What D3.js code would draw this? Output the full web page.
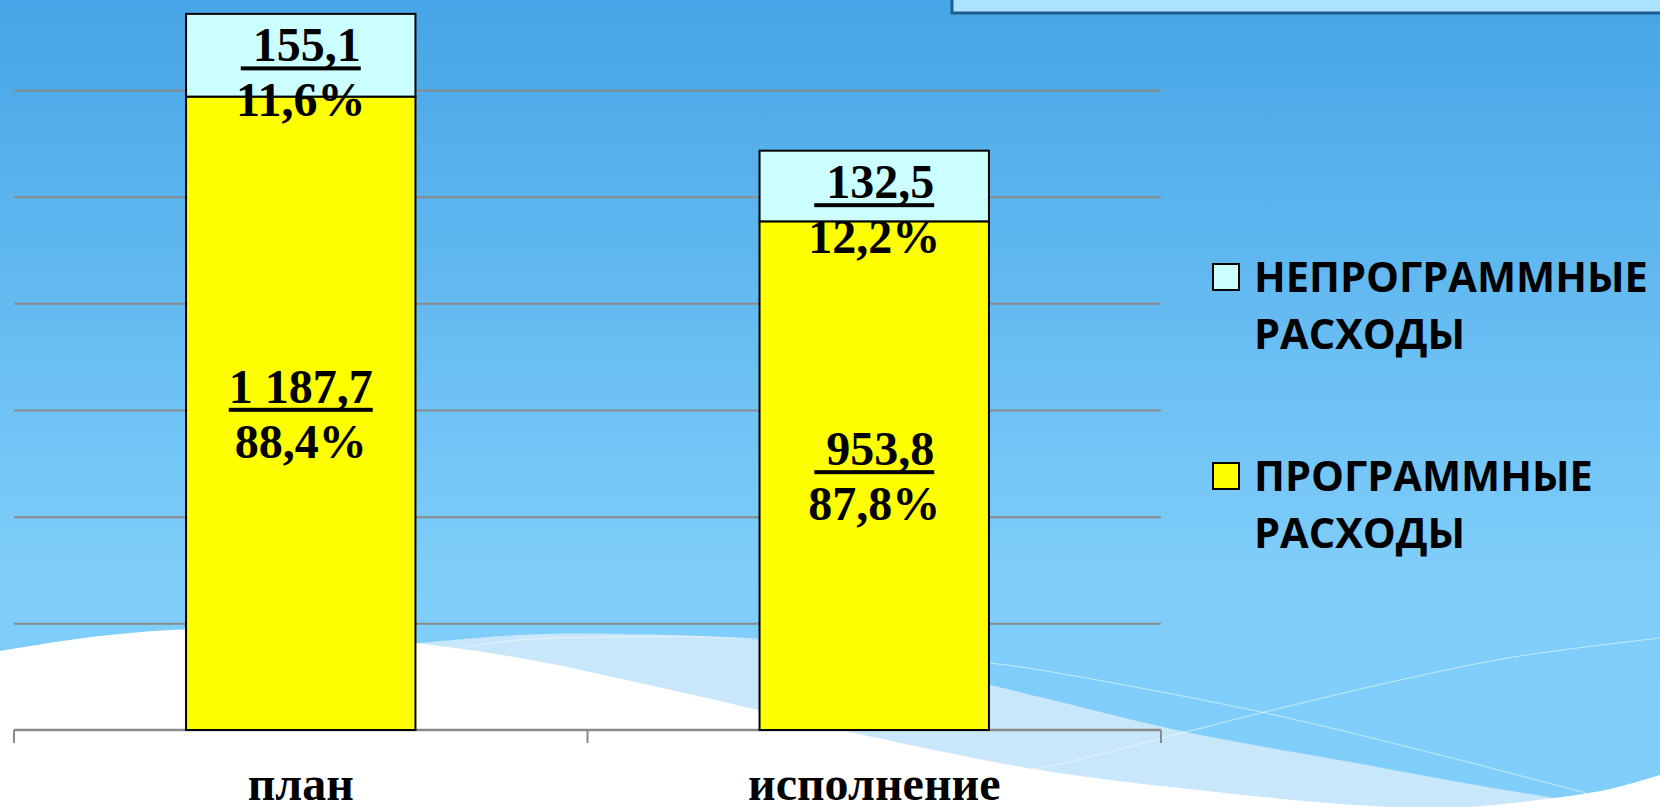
<!DOCTYPE html>
<html lang="ru">
<head>
<meta charset="utf-8">
<script src="https://cdn.jsdelivr.net/npm/d3@7"></script>
<style>
  html, body { margin: 0; padding: 0; overflow: hidden; background: #fff; }
  svg { display: block; }
</style>
</head>
<body>
<svg id="chart" width="1660" height="807"></svg>
<script>
// ── data ──
const categories       = ["план", "исполнение"];
const programValues    = [1187.7, 953.8];   // ПРОГРАММНЫЕ РАСХОДЫ
const nonProgramValues = [155.1, 132.5];    // НЕПРОГРАММНЫЕ РАСХОДЫ
const programPct       = [88.4, 87.8];
const nonProgramPct    = [11.6, 12.2];
const gridTicks        = [200, 400, 600, 800, 1000, 1200, 1400];
const legendItems      = [
  { key: "nonprog", lines: ["НЕПРОГРАММНЫЕ", "РАСХОДЫ"] },
  { key: "prog",    lines: ["ПРОГРАММНЫЕ", "РАСХОДЫ"] }
];

// decorative slide background (not data)
const whiteWave = [[0,651],[100,636],[200,629],[300,633],[416,643],[520,658],[640,683],[758,710],
                   [850,732],[1040,770],[1198,790],[1356,805],[1450,808],[1554,798],[1610,789],[1660,775]];
const lightWave = [[400,645],[520,635],[620,634],[758,640],[870,660],[990,685],[1040,697],
                   [1186,732],[1356,763],[1470,784],[1554,798]];
const thinLineA = [[466,647],[520,640],[620,637],[758,639],[990,663],[1040,670],[1261,712],[1440,755],[1586,793]];
const thinLineB = [[1000,772],[1040,768],[1186,732],[1261,713],[1400,680],[1514,657],[1660,638]];

const color = { prog: "#ffff00", nonprog: "#ccffff" };

const ru = d3.formatLocale({ decimal: ",", thousands: "\u00a0", grouping: [3], currency: ["", ""] });
const fmtVal = v => (v < 1000 ? "\u00a0" : "") + ru.format(",.1f")(v);
const fmtPct = p => ru.format(".1f")(p) + "%";

const svg = d3.select("#chart");
const W = 1660, H = 807;

// ── background ──
const defs = svg.append("defs");
const grad = defs.append("linearGradient")
    .attr("id", "bg").attr("x1", 0).attr("y1", 0).attr("x2", 0).attr("y2", 1);
grad.append("stop").attr("offset", "0%").attr("stop-color", "#46a5e6");
grad.append("stop").attr("offset", "70%").attr("stop-color", "#7ecdfa");
grad.append("stop").attr("offset", "100%").attr("stop-color", "#80cffb");

svg.append("rect").attr("width", W).attr("height", H).attr("fill", "url(#bg)");

const curve = d3.line().curve(d3.curveCatmullRom);

svg.append("path")
  .attr("d", curve(lightWave) + `L${lightWave[lightWave.length-1][0]},${H}L${lightWave[0][0]},${H}Z`)
  .attr("fill", "#c9e7fb");

svg.append("path")
  .attr("d", curve(whiteWave) + `L${W},${H}L0,${H}Z`)
  .attr("fill", "#ffffff");

[thinLineA, thinLineB].forEach(pts => {
  svg.append("path")
    .attr("d", curve(pts))
    .attr("fill", "none")
    .attr("stroke", "#ffffff")
    .attr("stroke-opacity", 0.55)
    .attr("stroke-width", 1);
});

// title box corner at top right
svg.append("rect")
  .attr("x", 952).attr("y", -20).attr("width", 760).attr("height", 33)
  .attr("fill", "#ade2fd").attr("stroke", "#1b5e8c").attr("stroke-width", 3);

// ── scales ──
const x0 = 14, x1 = 1161, base = 730;
const x = d3.scaleBand().domain(categories).range([x0, x1]).padding(0);
const y = d3.scaleLinear().domain([0, 1400]).range([base, base - 1400 * 0.5333]);

const rows = categories.map((c, i) => ({
  cat: c,
  prog: programValues[i], nonprog: nonProgramValues[i],
  progPct: programPct[i], nonprogPct: nonProgramPct[i]
}));
const stacked = d3.stack().keys(["prog", "nonprog"])(rows);

// gridlines
const grid = svg.append("g")
    .attr("transform", `translate(${x0},0)`)
    .call(d3.axisLeft(y).tickValues(gridTicks).tickSize(-(x1 - x0)).tickFormat(""));
grid.select(".domain").remove();
grid.selectAll("line").attr("stroke", "#8a8a8a").attr("stroke-width", 2);

// category axis
svg.append("line")
  .attr("x1", x0).attr("x2", x1).attr("y1", y(0)).attr("y2", y(0))
  .attr("stroke", "#8a8a8a").attr("stroke-width", 2.5);
const bounds = categories.map(c => x(c)).concat([x1]);
svg.append("g").selectAll("line")
  .data(bounds).enter().append("line")
    .attr("x1", d => d).attr("x2", d => d)
    .attr("y1", y(0)).attr("y2", y(0) + 13)
    .attr("stroke", "#8a8a8a").attr("stroke-width", 2);

svg.append("g").selectAll("text")
  .data(categories).enter().append("text")
    .attr("x", d => x(d) + x.bandwidth() / 2)
    .attr("y", 800)
    .attr("text-anchor", "middle")
    .attr("font-family", "'Times New Roman', 'Liberation Serif', serif")
    .attr("font-weight", "bold")
    .attr("font-size", 48)
    .attr("fill", "#000")
    .text(d => d);

// ── bars ──
const barW = x.bandwidth() * 0.4, barOff = x.bandwidth() * 0.3;

const layers = svg.append("g").selectAll("g")
  .data(stacked).enter().append("g")
    .attr("fill", d => color[d.key]);

layers.selectAll("rect")
  .data(d => d).enter().append("rect")
    .attr("x", d => x(d.data.cat) + barOff)
    .attr("y", d => y(d[1]))
    .attr("width", barW)
    .attr("height", d => y(d[0]) - y(d[1]))
    .attr("stroke", "#000")
    .attr("stroke-width", 2);

// ── data labels ──
const labelFont = "'Times New Roman', 'Liberation Serif', serif";
const lineH = 55;
const labels = svg.append("g");

stacked.forEach(layer => {
  layer.forEach(d => {
    const cx = x(d.data.cat) + barOff + barW / 2;
    let b1;
    if (layer.key === "nonprog") {
      b1 = y(d[1]) + 47.5;                       // inside end
    } else {
      b1 = (y(d[0]) + y(d[1])) / 2 - 10.5;       // centered
    }
    const v = d.data[layer.key];
    const p = d.data[layer.key + "Pct"];

    const t1 = labels.append("text")
      .attr("x", cx).attr("y", b1)
      .attr("text-anchor", "middle")
      .attr("font-family", labelFont).attr("font-weight", "bold").attr("font-size", 48)
      .attr("fill", "#000")
      .text(fmtVal(v));
    const w = t1.node().getComputedTextLength();
    labels.append("rect")
      .attr("x", cx - w / 2).attr("y", b1 + 5)
      .attr("width", w).attr("height", 4)
      .attr("fill", "#000");

    labels.append("text")
      .attr("x", cx).attr("y", b1 + lineH)
      .attr("text-anchor", "middle")
      .attr("font-family", labelFont).attr("font-weight", "bold").attr("font-size", 48)
      .attr("fill", "#000")
      .text(fmtPct(p));
  });
});

// ── legend ──
const legend = svg.append("g").attr("transform", "translate(1213,264)");
legendItems.forEach((item, i) => {
  const row = legend.append("g").attr("transform", `translate(0,${i * 199})`);
  row.append("rect")
    .attr("width", 26).attr("height", 26)
    .attr("fill", color[item.key])
    .attr("stroke", "#000").attr("stroke-width", 2);
  item.lines.forEach((ln, j) => {
    row.append("text")
      .attr("x", 41).attr("y", 27.5 + j * 57)
      .attr("font-family", "'Open Sans', 'Noto Sans', sans-serif")
      .attr("font-weight", "bold")
      .attr("font-size", 41.5)
      .attr("fill", "#000")
      .text(ln);
  });
});
</script>
</body>
</html>
